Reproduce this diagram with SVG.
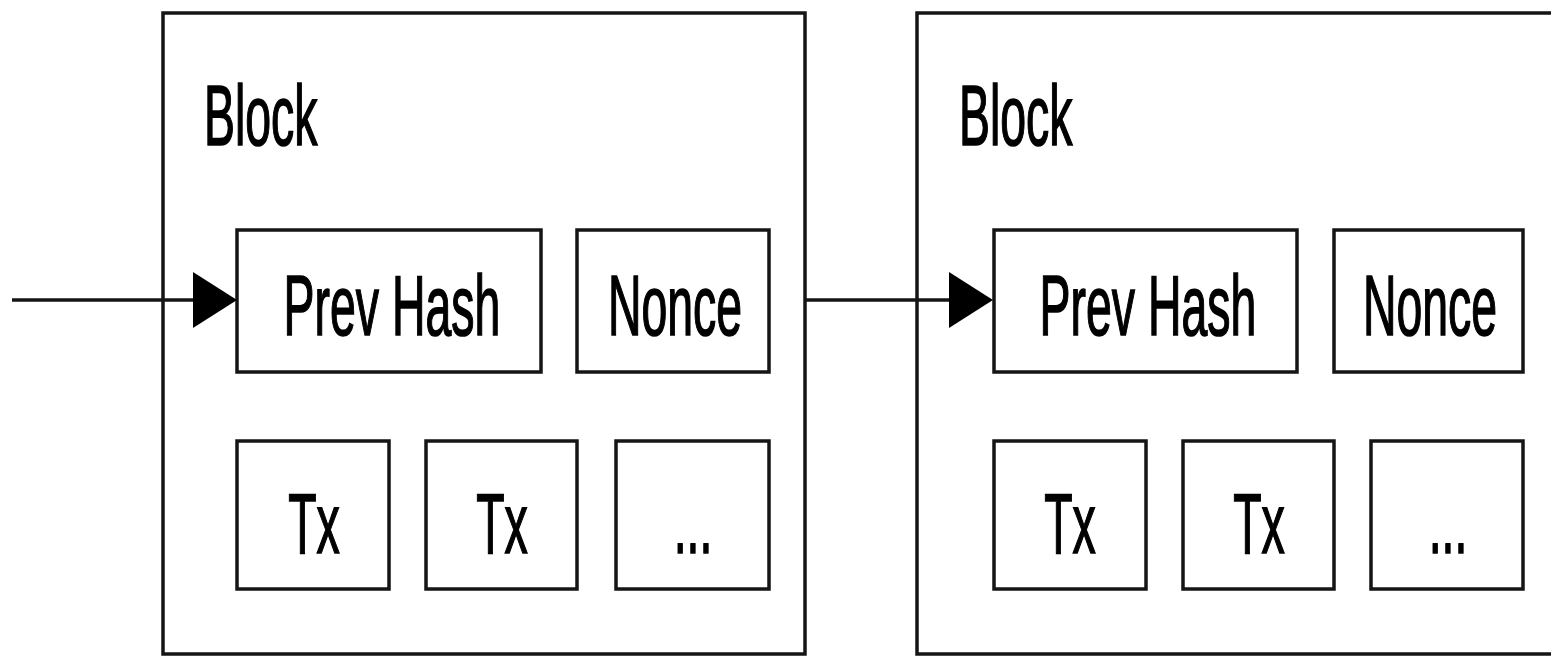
<svg xmlns="http://www.w3.org/2000/svg" width="1551" height="657" viewBox="0 0 1551 657">
<style>
.box{fill:#fff;stroke:#151515;stroke-width:3.5}
.lbl{font-family:"Liberation Sans",Arial,sans-serif;font-size:86px;fill:#000;stroke:#000;stroke-width:1.6;text-anchor:middle}
.ttl{font-family:"Liberation Sans",Arial,sans-serif;font-size:86px;fill:#000;stroke:#000;stroke-width:1.6;text-anchor:start}
.conn{stroke:#151515;stroke-width:3.5;fill:none}
.head{fill:#000}
</style>
<rect width="1551" height="657" fill="#fff"/>
<g id="block1">
<rect class="box" x="163" y="13" width="642" height="641"/>
<text class="ttl" transform="translate(204,145) scale(0.54,1)">Block</text>
</g>
<g id="prevhash1">
<rect class="box" x="237" y="230" width="304" height="142"/>
<text class="lbl" transform="translate(392,335) scale(0.54,1)">Prev Hash</text>
</g>
<g id="nonce1">
<rect class="box" x="577" y="230" width="192" height="142"/>
<text class="lbl" transform="translate(675,335) scale(0.54,1)">Nonce</text>
</g>
<g id="tx1a">
<rect class="box" x="237" y="441" width="152" height="148"/>
<text class="lbl" transform="translate(314,553) scale(0.54,1)">Tx</text>
</g>
<g id="tx1b">
<rect class="box" x="426" y="441" width="151" height="148"/>
<text class="lbl" transform="translate(502,553) scale(0.54,1)">Tx</text>
</g>
<g id="more1">
<rect class="box" x="616" y="441" width="153" height="148"/>
<text class="lbl" transform="translate(693,553) scale(0.54,1)">...</text>
</g>
<g id="block2">
<rect class="box" x="917" y="13" width="660" height="641"/>
<text class="ttl" transform="translate(959,145) scale(0.54,1)">Block</text>
</g>
<g id="prevhash2">
<rect class="box" x="994" y="230" width="303" height="142"/>
<text class="lbl" transform="translate(1148,335) scale(0.54,1)">Prev Hash</text>
</g>
<g id="nonce2">
<rect class="box" x="1334" y="230" width="189" height="142"/>
<text class="lbl" transform="translate(1430,335) scale(0.54,1)">Nonce</text>
</g>
<g id="tx2a">
<rect class="box" x="994" y="441" width="152" height="148"/>
<text class="lbl" transform="translate(1070,553) scale(0.54,1)">Tx</text>
</g>
<g id="tx2b">
<rect class="box" x="1183" y="441" width="151" height="148"/>
<text class="lbl" transform="translate(1259,553) scale(0.54,1)">Tx</text>
</g>
<g id="more2">
<rect class="box" x="1371" y="441" width="152" height="148"/>
<text class="lbl" transform="translate(1448,553) scale(0.54,1)">...</text>
</g>
<g id="connectors">
<line class="conn" x1="12" y1="300" x2="200" y2="300"/>
<polygon class="head" points="193,272 237,300 193,328"/>
<line class="conn" x1="805" y1="300" x2="955" y2="300"/>
<polygon class="head" points="949,272 993,300 949,328"/>
</g>
</svg>
